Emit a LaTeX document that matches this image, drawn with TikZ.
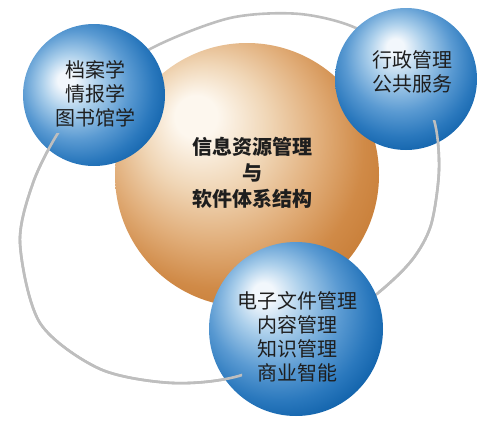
\documentclass[tikz,border=0pt]{standalone}
\usepackage{fontspec}
\newfontfamily\cjk{Noto Sans CJK SC}
\definecolor{blueHi}{HTML}{F2F7FC}
\definecolor{blueLight}{HTML}{ABCFEB}
\definecolor{blueMid}{HTML}{5A9AD2}
\definecolor{blueDark}{HTML}{2A78BD}
\definecolor{blueDeep}{HTML}{0D5FA8}
\definecolor{orangeHi}{HTML}{FDF7EE}
\definecolor{orangeLight}{HTML}{F0D6B6}
\definecolor{orangeMid}{HTML}{E1AE7A}
\definecolor{orangeDark}{HTML}{D08A47}
\definecolor{orangeDeep}{HTML}{C67B34}
\definecolor{ringGray}{HTML}{BEBEBE}
\definecolor{txt}{HTML}{1E1E1E}
% sphere shadings, highlight offset given per sphere
\newcommand{\bluesphere}[3]{\pgfdeclareradialshading{#1}{\pgfpoint{#2}{#3}}{%
  color(0bp)=(blueHi); color(3bp)=(blueHi); color(10bp)=(blueLight);
  color(19bp)=(blueMid); color(26bp)=(blueDark); color(32bp)=(blueDeep);
  color(50bp)=(blueDeep)}}
\bluesphere{blueTL}{-10.5bp}{5.5bp}
\bluesphere{blueTR}{-4bp}{12bp}
\bluesphere{blueBot}{-10bp}{11bp}
\pgfdeclareradialshading{orangesphere}{\pgfpoint{-10.5bp}{12bp}}{%
  color(0bp)=(orangeHi); color(4bp)=(orangeHi); color(12bp)=(orangeLight);
  color(20bp)=(orangeMid); color(27bp)=(orangeDark); color(33bp)=(orangeDeep);
  color(50bp)=(orangeDeep)}
\newcommand{\ringcurve}{plot[smooth cycle] coordinates {
  (20,243) (40,323) (100,369) (173,383) (242,375) (318,337) (378,293)
  (412,260) (431,225) (439,170) (434,120) (410,72) (360,30) (300,14)
  (230,18) (152,48) (92,90) (58,133) (33,183)}}

\begin{document}
\begin{tikzpicture}[x=1pt,y=-1pt,
   ring/.style={draw=ringGray,line width=2.6pt},
   ball/.style={circle,inner sep=0pt,minimum size=#1},
   balltext/.style={align=center,text=txt,font=\cjk\fontsize{20}{24}\selectfont}]
   \useasboundingbox (0,0) rectangle (490,423);
   % ring behind the spheres
   \draw[ring] \ringcurve;
   \node[ball=264pt,shading=orangesphere] (core) at (247,175) {};
   \node[ball=142pt,shading=blueTL] (archives) at (94,95) {};
   \node[ball=142pt,shading=blueTR] (public) at (406,79) {};
   % ring in front of the right sphere
   \begin{scope}
     \clip (378,120) rectangle (490,423);
     \draw[ring] \ringcurve;
   \end{scope}
   \node[ball=174pt,shading=blueBot] (business) at (296,329) {};
   % ring in front of the left and lower spheres
   \begin{scope}
     \clip (0,133) rectangle (242,423);
     \draw[ring] \ringcurve;
   \end{scope}
   \node[balltext] (archivestext) at (95,94) {档案学\\情报学\\图书馆学};
   \node[balltext] (publictext) at (412,72) {行政管理\\公共服务};
   \node[balltext] (businesstext) at (297,337) {电子文件管理\\内容管理\\知识管理\\商业智能};
   \node[balltext,font=\cjk\bfseries\fontsize{20}{26}\selectfont] (coretext) at (252,173)
     {信息资源管理\\与\\软件体系结构};
\end{tikzpicture}
\end{document}
